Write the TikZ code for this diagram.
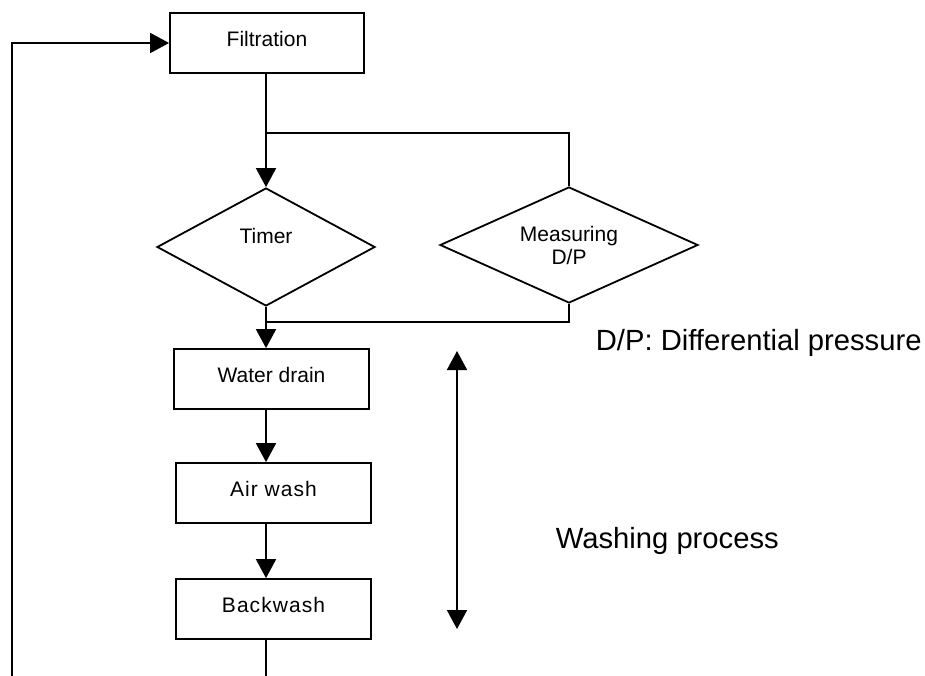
\documentclass[tikz,border=0pt]{standalone}
\usepackage{fontspec}
\setmainfont{Liberation Sans}
\newfontfamily\spacedfont[LetterSpace=5]{Liberation Sans}
\usetikzlibrary{arrows.meta,shapes.geometric}

\begin{document}
\begin{tikzpicture}[x=1pt,y=-1pt,
  line width=1.8pt,
  flow/.style={-{Triangle[length=19pt,width=20pt]}},
  stepbox/.style={draw,rectangle,minimum width=195pt,minimum height=60pt,
    inner sep=0pt,text depth=8pt,font=\fontsize{21}{23}\selectfont},
  decision/.style={draw,diamond,aspect=2.2,inner sep=0pt,align=center,
    font=\fontsize{21}{23}\selectfont},
  note/.style={anchor=base west,inner sep=0pt,font=\fontsize{29.2}{34}\selectfont}]
  \useasboundingbox (0,0) rectangle (925,676);

  % process steps
  \node[stepbox,minimum width=194pt] (filt) at (267,43) {Filtration};
  \node[decision,minimum width=218pt,minimum height=118pt,text depth=22pt] (timer) at (266,247) {Timer};
  \node[decision,minimum width=258pt,minimum height=116pt] (meas) at (569,245) {Measuring\\D/P};
  \node[stepbox] (wd) at (271.5,379) {Water drain};
  \node[stepbox] (air) at (273.5,493) {\spacedfont Air wash};
  \node[stepbox] (bw) at (273.5,609) {\spacedfont Backwash};

  % branch points and free ends
  \coordinate (split) at (266,133);
  \coordinate (merge) at (266,322);
  \coordinate (tail) at (266,676);
  \coordinate (loopfoot) at (12,676);
  \coordinate (wtop) at (457,351);
  \coordinate (wbot) at (457,629);

  % main flow
  \draw[flow] (filt.south -| timer.north) -- (timer.north);
  \draw (split) -| (meas.north);
  \draw[flow] (timer.south) -- (timer.south |- wd.north);
  \draw (meas.south) |- (merge);
  \draw[flow] (wd.south -| timer.south) -- (air.north -| timer.south);
  \draw[flow] (air.south -| timer.south) -- (bw.north -| timer.south);
  \draw (bw.south -| timer.south) -- (tail);

  % return to filtration
  \draw[flow] (loopfoot) |- (filt.west);

  % washing span
  \draw[{Triangle[length=19pt,width=20pt]}-{Triangle[length=19pt,width=20pt]}] (wtop) -- (wbot);

  % notes
  \node[note] (dp) at (595,350) {D/P: Differential pressure};
  \node[note] (wash) at (555,548) {Washing process};
\end{tikzpicture}
\end{document}
